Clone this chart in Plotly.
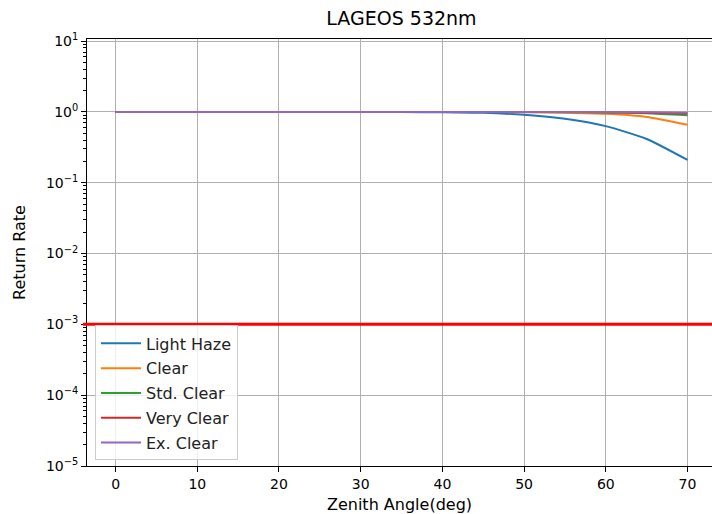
import plotly.graph_objects as go

zenith = [0, 5, 10, 15, 20, 25, 30, 35, 40, 45, 50, 55, 60, 65, 70]
light_haze = [1.0, 1.0, 1.0, 1.0, 1.0, 1.0, 0.999, 0.996, 0.99, 0.97, 0.91, 0.80, 0.63, 0.415, 0.21]
clear = [1.0, 1.0, 1.0, 1.0, 1.0, 1.0, 1.0, 1.0, 0.999, 0.997, 0.99, 0.975, 0.94, 0.85, 0.66]
std_clear = [1.0, 1.0, 1.0, 1.0, 1.0, 1.0, 1.0, 1.0, 1.0, 0.999, 0.997, 0.993, 0.984, 0.96, 0.90]
very_clear = [1.0, 1.0, 1.0, 1.0, 1.0, 1.0, 1.0, 1.0, 1.0, 1.0, 0.999, 0.997, 0.99, 0.975, 0.95]
ex_clear = [1.0, 1.0, 1.0, 1.0, 1.0, 1.0, 1.0, 1.0, 1.0, 1.0, 1.0, 0.999, 0.995, 0.99, 0.975]
threshold = 1e-3
y_tickvals = [1e-5, 1e-4, 1e-3, 1e-2, 1e-1, 1e0, 1e1]
y_ticktext = ["10<sup>\u22125</sup>", "10<sup>\u22124</sup>", "10<sup>\u22123</sup>",
              "10<sup>\u22122</sup>", "10<sup>\u22121</sup>", "10<sup>0</sup>", "10<sup>1</sup>"]
x_tickvals = [0, 10, 20, 30, 40, 50, 60, 70]

series = [
    ("Light Haze", light_haze, "#1f77b4"),
    ("Clear", clear, "#ff7f0e"),
    ("Std. Clear", std_clear, "#2ca02c"),
    ("Very Clear", very_clear, "#d62728"),
    ("Ex. Clear", ex_clear, "#9467bd"),
]

FONT = "DejaVu Sans"
fig = go.Figure()
for i, (name, vals, col) in enumerate(series):
    fig.add_trace(go.Scatter(
        x=zenith, y=vals, name=name, mode="lines",
        line=dict(color=col, width=2, shape="spline", smoothing=0.6),
        legendgroup=f"g{i}",
    ))

fig.add_shape(type="line", xref="paper", yref="y", x0=-0.0064, x1=1.0,
              y0=threshold, y1=threshold, line=dict(color="#ff0000", width=3))

axis_common = dict(
    showline=True, linecolor="black", linewidth=1,
    ticks="outside", ticklen=5, tickwidth=1, tickcolor="black",
    showgrid=True, gridcolor="#b0b0b0", gridwidth=1,
    zeroline=False, automargin=False,
    tickfont=dict(family=FONT, size=14, color="black"),
)

fig.update_layout(
    width=712, height=514,
    margin=dict(l=87, r=0, t=39, b=48),
    paper_bgcolor="white", plot_bgcolor="white",
    font=dict(family=FONT, size=14, color="black"),
    title=dict(text="LAGEOS 532nm", x=401.5 / 712, xanchor="center",
               y=1 - 18 / 514, yanchor="middle", automargin=False,
               font=dict(family=FONT, size=19, color="black")),
    xaxis=dict(range=[-3.5, 73.0], tickvals=x_tickvals,
               mirror=True,
               title=dict(text="Zenith Angle(deg)", standoff=11,
                          font=dict(family=FONT, size=16, color="black")),
               **axis_common),
    yaxis=dict(type="log", range=[-5, 1.03], tickvals=y_tickvals, ticktext=y_ticktext,
               title=dict(text="Return Rate", standoff=16,
                          font=dict(family=FONT, size=16, color="black")),
               minor=dict(ticks="outside", ticklen=3, tickwidth=1, tickcolor="black",
                          dtick="D1", showgrid=False),
               **axis_common),
    legend=dict(x=0.0128, y=0.013, xanchor="left", yanchor="bottom",
                bgcolor="rgba(255,255,255,0.8)", bordercolor="#cccccc", borderwidth=1,
                font=dict(family=FONT, size=16, color="#222222"),
                tracegroupgap=1, itemwidth=40),
    showlegend=True,
)

fig.write_html("out.html", config={"displayModeBar": False},
               post_script="document.body.style.margin='0';document.body.style.overflow='hidden';")
